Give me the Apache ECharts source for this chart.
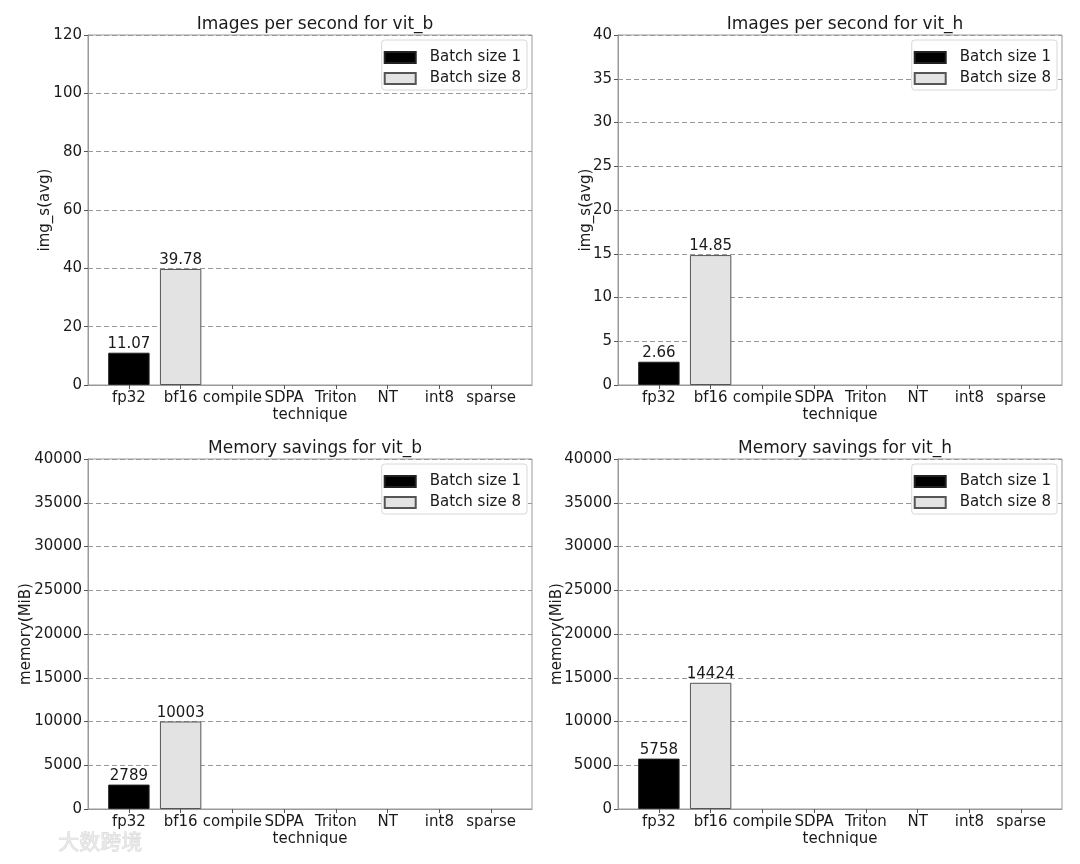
<!DOCTYPE html>
<html>
<head>
<meta charset="utf-8">
<script src="https://cdn.jsdelivr.net/npm/echarts@6/dist/echarts.min.js"></script>
<style>
html,body{margin:0;padding:0;background:#fff;}
#chart{width:1080px;height:864px;}
</style>
</head>
<body>
<div id="chart"></div>
<script>
const categories = ['fp32', 'bf16', 'compile', 'SDPA', 'Triton', 'NT', 'int8', 'sparse'];
const seriesNames = ['Batch size 1', 'Batch size 8'];
// values per technique (null = not measured)
const vitbImgB1 = [11.07, null, null, null, null, null, null, null];
const vitbImgB8 = [null, 39.78, null, null, null, null, null, null];
const vithImgB1 = [2.66, null, null, null, null, null, null, null];
const vithImgB8 = [null, 14.85, null, null, null, null, null, null];
const vitbMemB1 = [2789, null, null, null, null, null, null, null];
const vitbMemB8 = [null, 10003, null, null, null, null, null, null];
const vithMemB1 = [5758, null, null, null, null, null, null, null];
const vithMemB8 = [null, 14424, null, null, null, null, null, null];
const titles = ['Images per second for vit_b', 'Images per second for vit_h', 'Memory savings for vit_b', 'Memory savings for vit_h'];
const yNames = ['img_s(avg)', 'img_s(avg)', 'memory(MiB)', 'memory(MiB)'];
const yMax = [120, 40, 40000, 40000];
const yInterval = [20, 5, 5000, 5000];
const xName = 'technique';

const FONT = 'DejaVu Sans';
const TXT = '#1a1a1a';
const panels = [
  {left: 88, top: 35, b1: vitbImgB1, b8: vitbImgB8, yGap: 35},
  {left: 618, top: 35, b1: vithImgB1, b8: vithImgB8, yGap: 24},
  {left: 88, top: 459, b1: vitbMemB1, b8: vitbMemB8, yGap: 54},
  {left: 618, top: 459, b1: vithMemB1, b8: vithMemB8, yGap: 53}
];
const W = 444, H = 350;
const toPairs = arr => arr.map((v, i) => v == null ? null : [i, v]).filter(d => d);

const option = {
  backgroundColor: '#fff',
  animation: false,
  textStyle: {fontFamily: FONT},
  title: panels.map((p, k) => ({
    text: titles[k], left: p.left + W / 2, top: p.top - 24, textAlign: 'center',
    textStyle: {fontFamily: FONT, fontSize: 17, fontWeight: 'normal', color: TXT}
  })),
  legend: panels.map((p, k) => ({
    data: seriesNames.map(n => ({name: n, icon: 'rect'})), orient: 'vertical', right: 1080 - (p.left + W - 5), top: p.top + 5,
    align: 'left', itemWidth: 31, itemHeight: 11, itemGap: 6,
    padding: [10, 6, 4, 2], backgroundColor: '#fff', borderColor: '#d8d8d8', borderWidth: 1, borderRadius: 3,
    textStyle: {fontFamily: FONT, fontSize: 15, color: TXT, padding: [0, 0, 0, 9]}, selectedMode: false
  })),
  grid: panels.map(p => ({
    left: p.left, top: p.top, width: W, height: H, show: true, borderColor: '#999', borderWidth: 1, backgroundColor: 'transparent'
  })),
  xAxis: panels.map((p, k) => ({
    type: 'value', gridIndex: k, min: -0.79, max: 7.79,
    name: xName, nameLocation: 'middle', nameGap: 23, nameMoveOverlap: false,
    nameTextStyle: {fontFamily: FONT, fontSize: 15, color: TXT},
    axisLine: {show: true, onZero: false, lineStyle: {color: '#999', width: 1}},
    axisTick: {show: true, length: 4, customValues: categories.map((c, i) => i), lineStyle: {color: '#555'}},
    axisLabel: {customValues: categories.map((c, i) => i), formatter: v => categories[Math.round(v)], fontFamily: FONT, fontSize: 15, color: TXT, margin: 6},
    splitLine: {show: false}
  })),
  yAxis: panels.map((p, k) => ({
    type: 'value', gridIndex: k, min: 0, max: yMax[k], interval: yInterval[k],
    name: yNames[k], nameLocation: 'middle', nameGap: p.yGap, nameRotate: 90, nameMoveOverlap: false,
    nameTextStyle: {fontFamily: FONT, fontSize: 15, color: TXT},
    axisLine: {show: true, onZero: false, lineStyle: {color: '#999', width: 1}},
    axisTick: {show: true, length: 4, lineStyle: {color: '#555'}},
    axisLabel: {fontFamily: FONT, fontSize: 15, color: TXT, margin: 6, formatter: v => String(v)},
    splitLine: {show: true, lineStyle: {color: '#999', type: [5, 3], width: 1}}
  })),
  series: [],
  graphic: [{
    type: 'text', left: 58, top: 830,
    style: {text: '大数跨境', fontFamily: 'Noto Sans CJK SC', fontSize: 21, fill: '#e8e8e8', stroke: '#cfcfcf', lineWidth: 0.6}
  }]
};

panels.forEach((p, k) => {
  [p.b1, p.b8].forEach((arr, j) => {
    option.series.push({
      type: 'bar', name: seriesNames[j], xAxisIndex: k, yAxisIndex: k,
      data: toPairs(arr), barWidth: 41.4, barGap: '-100%',
      itemStyle: j === 0 ? {color: '#000', borderColor: '#222', borderWidth: 1}
                         : {color: '#e3e3e3', borderColor: '#555', borderWidth: 1},
      label: {show: true, position: 'top', distance: 1, fontFamily: FONT, fontSize: 15, color: TXT,
              formatter: d => String(d.value[1])},
      z: 3
    });
  });
});

const chart = echarts.init(document.getElementById('chart'), null, {renderer: 'canvas'});
chart.setOption(option);
</script>
</body>
</html>
